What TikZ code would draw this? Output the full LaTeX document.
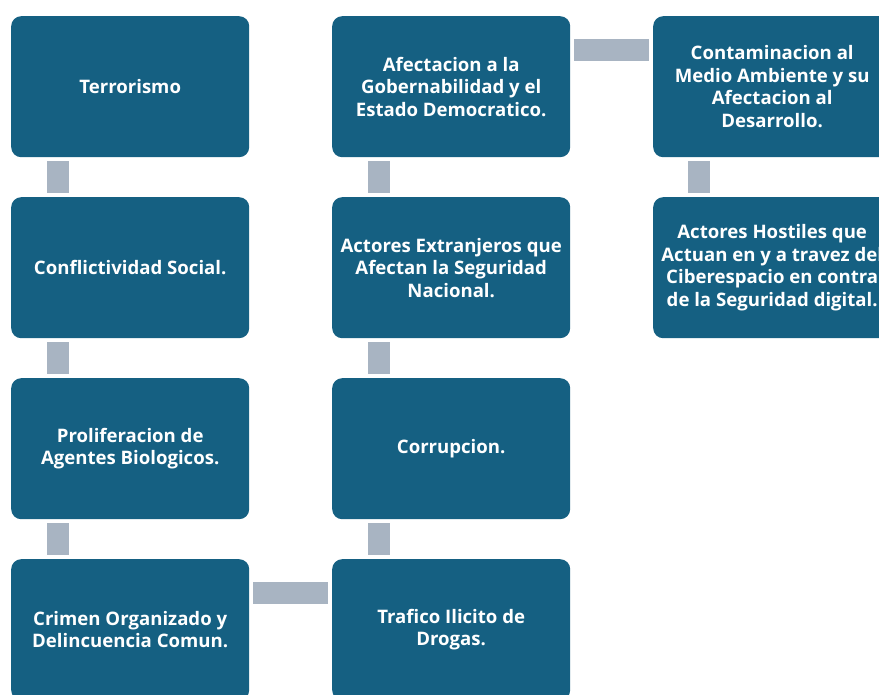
\documentclass[tikz,border=0pt]{standalone}
\usepackage{fontspec}
\setmainfont{Open Sans}
\usetikzlibrary{calc}
\definecolor{boxblue}{HTML}{156082}
\definecolor{linkgray}{HTML}{A8B4C2}
\begin{document}
\begin{tikzpicture}[x=1pt,y=-1pt,
  box/.style={fill=boxblue, rounded corners=10pt, minimum width=238pt, minimum height=141pt,
    inner sep=0pt, text=white, align=center, anchor=north west,
    font=\fontsize{18.6}{22.6}\selectfont\bfseries},
  vlink/.style={draw=linkgray, line width=22pt},
  hlink/.style={draw=linkgray, line width=22pt}]
\useasboundingbox (0,0) rectangle (879,695);
\clip (0,0) rectangle (879,695);
% column 1
\node[box] (terr) at (11,16) {Terrorismo};
\node[box] (conf) at (11,197) {Conflictividad Social.};
\node[box] (prol) at (11,378) {Proliferacion de\\Agentes Biologicos.};
\node[box] (crim) at (11,559) {Crimen Organizado y\\Delincuencia Comun.};
% column 2
\node[box] (afec) at (332,16) {Afectacion a la\\Gobernabilidad y el\\Estado Democratico.};
\node[box] (actx) at (332,197) {Actores Extranjeros que\\Afectan la Seguridad\\Nacional.};
\node[box] (corr) at (332,378) {Corrupcion.};
\node[box] (traf) at (332,559) {Trafico Ilicito de\\Drogas.};
% column 3
\node[box] (cont) at (653,16) {Contaminacion al\\Medio Ambiente y su\\Afectacion al\\Desarrollo.};
\node[box] (acth) at (653,197) {Actores Hostiles que\\Actuan en y a travez del\\Ciberespacio en contra\\de la Seguridad digital.};
% links
\draw[vlink] ($(terr.south west)+(47,4)$) -- ($(conf.north west)+(47,-4)$);
\draw[vlink] ($(conf.south west)+(47,4)$) -- ($(prol.north west)+(47,-4)$);
\draw[vlink] ($(prol.south west)+(47,4)$) -- ($(crim.north west)+(47,-4)$);
\draw[hlink] ($(crim.north east)+(4,34)$) -- ($(traf.north west)+(-4,34)$);
\draw[vlink] ($(corr.south west)+(47,4)$) -- ($(traf.north west)+(47,-4)$);
\draw[vlink] ($(actx.south west)+(47,4)$) -- ($(corr.north west)+(47,-4)$);
\draw[vlink] ($(afec.south west)+(47,4)$) -- ($(actx.north west)+(47,-4)$);
\draw[hlink] ($(afec.north east)+(4,34)$) -- ($(cont.north west)+(-4,34)$);
\draw[vlink] ($(cont.south west)+(46,4)$) -- ($(acth.north west)+(46,-4)$);
\end{tikzpicture}
\end{document}
